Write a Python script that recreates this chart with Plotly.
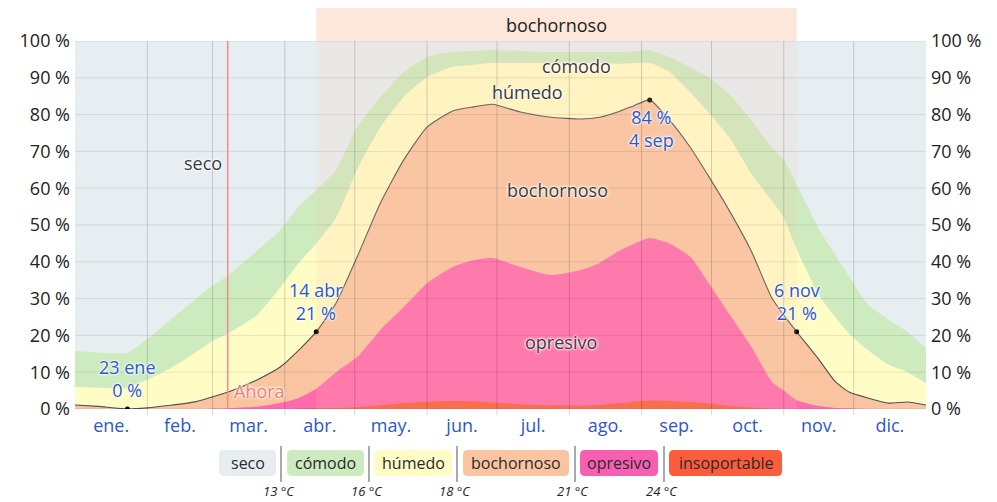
import plotly.graph_objects as go

# ---------------- data ----------------
days = [0, 10, 22.5, 31, 41, 52, 59, 66, 78, 88, 96, 103.5, 112, 121, 131, 141, 151,
        162, 170, 179, 191, 204, 217, 225, 234, 240, 246.5, 255, 264, 272, 281, 290,
        299, 304, 309.5, 319, 326, 332, 340, 349, 357, 365]

# cumulative percentages: share of time at this level or muggier
pct_insoportable = [0, 0, 0, 0, 0, 0, 0, 0, 0, 0, 0.1, 0.2, 0.3, 0.5, 1.0, 1.6, 2.0,
                    2.2, 2.1, 1.8, 1.3, 1.0, 0.9, 1.1, 1.6, 2.0, 2.3, 2.2, 1.9, 1.5, 0.8, 0.4,
                    0.1, 0, 0, 0, 0, 0, 0, 0, 0, 0]
pct_opresivo_plus = [0, 0, 0, 0, 0, 0, 0.1, 0.2, 0.6, 1.6, 3.0, 5.5, 10.0, 14.1, 21.5, 27.7, 34.2,
                     38.6, 40.3, 41.0, 38.6, 36.4, 37.8, 39.7, 43.2, 45.0, 46.5, 45.0, 41.3, 34.0, 25.5, 17.0,
                     7.3, 5.0, 2.4, 0.8, 0.3, 0.2, 0, 0, 0, 0]
pct_bochornoso_plus = [1.1, 0.7, 0.0, 0.3, 1.0, 2.0, 3.3, 4.7, 7.9, 11.4, 16.0, 21.0, 28.8, 41.3, 56.0, 67.7, 76.6,
                       81.0, 82.0, 82.8, 80.7, 79.3, 78.8, 79.3, 81.0, 82.5, 84.0, 78.5, 71.0, 63.0, 53.5, 43.0,
                       30.0, 25.5, 21.0, 13.5, 7.5, 4.6, 3.0, 1.6, 1.9, 1.1]
pct_humedo_plus = [6.0, 5.8, 5.7, 8.0, 11.1, 15.5, 18.5, 20.6, 25.5, 33.0, 39.7, 45.0, 52.0, 65.0, 76.6, 84.8, 90.2,
                   93.0, 93.5, 94.0, 94.0, 94.0, 94.0, 94.0, 93.8, 94.0, 94.0, 91.6, 86.0, 80.4, 73.5, 64.0,
                   56.5, 52.0, 43.5, 31.0, 25.0, 20.5, 16.0, 12.0, 10.0, 7.0]
pct_comodo_plus = [15.8, 15.3, 15.3, 19.0, 24.2, 30.0, 33.5, 36.5, 43.0, 48.6, 55.0, 59.5, 65.0, 76.6, 84.8, 91.6, 95.7,
                   97.0, 97.3, 97.5, 97.3, 97.0, 97.0, 97.0, 97.0, 97.2, 97.5, 95.7, 92.7, 90.0, 85.3, 78.5,
                   71.0, 67.7, 61.0, 49.0, 42.0, 36.0, 28.5, 24.2, 21.0, 16.5]

month_labels = ["ene.", "feb.", "mar.", "abr.", "may.", "jun.", "jul.", "ago.", "sep.", "oct.", "nov.", "dic."]
month_starts = [0, 31, 59, 90, 120, 151, 181, 212, 243, 273, 304, 334, 365]
y_ticks = [0, 10, 20, 30, 40, 50, 60, 70, 80, 90, 100]

key_days = [22.5, 103.5, 246.5, 309.5]
key_dates = ["23 ene", "14 abr", "4 sep", "6 nov"]
muggy_season = [103.5, 309.5]
today = 65.5

legend_labels = ["seco", "cómodo", "húmedo", "bochornoso", "opresivo", "insoportable"]
legend_temps = ["13 °C", "16 °C", "18 °C", "21 °C", "24 °C"]

# ---------------- styles ----------------
C_SECO = "#e6eef2"
C_COMODO = "#cdebbf"
C_HUMEDO = "#fffcc6"
C_BOCH = "#fbc4a0"
C_OPR = "#ff6aad"
C_INS = "#fb5c3c"
FONT = "Open Sans"
BLUE = "#2c58cc"
GLOW = "0px 0px 3px white, 0px 0px 3px white, 0px 0px 2px white"

# page is rendered with an 8px body margin: work in page pixels, size figure accordingly
OFF = 8
PAGE_W, PAGE_H = 997, 502
W, H = PAGE_W - OFF, PAGE_H - OFF
L, R, T, B = 75, 926, 41, 409  # plot area in page pixels


def px(x):
    return (x - L) / (R - L)


def py(y):
    return (B - y) / (B - T)


fig = go.Figure()
for vals, col in [(pct_comodo_plus, C_COMODO), (pct_humedo_plus, C_HUMEDO),
                  (pct_bochornoso_plus, C_BOCH), (pct_opresivo_plus, C_OPR),
                  (pct_insoportable, C_INS)]:
    fig.add_trace(go.Scatter(x=days, y=vals, mode="lines", fill="tozeroy",
                             fillcolor=col, line=dict(width=0, color=col, shape="spline", smoothing=0.5),
                             hoverinfo="skip", showlegend=False))

fig.add_trace(go.Scatter(x=days, y=pct_bochornoso_plus, mode="lines",
                         line=dict(color="#505050", width=1.1, shape="spline", smoothing=0.5),
                         showlegend=False))

key_vals = [pct_bochornoso_plus[days.index(d)] for d in key_days]
fig.add_trace(go.Scatter(x=key_days, y=key_vals, mode="markers",
                         marker=dict(color="black", size=5), showlegend=False))

shapes = []
# muggy-season band: header + overlay
shapes.append(dict(type="rect", xref="x", yref="paper", x0=muggy_season[0], x1=muggy_season[1],
                   y0=1, y1=py(6), fillcolor="#fde6da", line=dict(width=0), layer="above"))
shapes.append(dict(type="rect", xref="x", yref="y", x0=muggy_season[0], x1=muggy_season[1],
                   y0=0, y1=100, fillcolor="rgba(250,200,170,0.17)", line=dict(width=0), layer="above"))
# grid
for v in y_ticks:
    shapes.append(dict(type="line", xref="x", yref="y", x0=0, x1=365, y0=v, y1=v,
                       line=dict(color="rgba(0,0,0,0.09)", width=1), layer="above"))
for m in month_starts[1:-1]:
    shapes.append(dict(type="line", xref="x", yref="paper", x0=m, x1=m, y0=py(415), y1=1,
                       line=dict(color="rgba(0,0,0,0.16)", width=1), layer="above"))
# today line
shapes.append(dict(type="line", xref="x", yref="y", x0=today, x1=today, y0=0, y1=100,
                   line=dict(color="#f08c8c", width=1.5), layer="above"))

annotations = []
for d, lab, v in zip(key_days, key_dates, key_vals):
    if lab == "4 sep":
        annotations.append(dict(x=d, y=v, text=f"{v:.0f} %<br>{lab}", showarrow=False,
                                xanchor="center", yanchor="top", yshift=-3, xshift=2,
                                font=dict(family=FONT, size=18, color=BLUE, shadow=GLOW)))
    else:
        annotations.append(dict(x=d, y=v, text=f"{lab}<br>{v:.0f} %", showarrow=False,
                                xanchor="center", yanchor="bottom", yshift=5,
                                font=dict(family=FONT, size=18, color=BLUE, shadow=GLOW)))

for txt, d, v in [("seco", 54.9, 66.8), ("cómodo", 215.3, 93.2), ("húmedo", 193.9, 86.1),
                  ("bochornoso", 206.8, 59.5), ("opresivo", 208.5, 18.2)]:
    annotations.append(dict(x=d, y=v, text=txt, showarrow=False, xanchor="center", yanchor="middle",
                            font=dict(family=FONT, size=18, color="#3a3a3a", shadow=GLOW)))

annotations.append(dict(x=(muggy_season[0] + muggy_season[1]) / 2, y=py(25), yref="paper",
                        text="bochornoso", showarrow=False, xanchor="center", yanchor="middle",
                        font=dict(family=FONT, size=18, color="#222")))
annotations.append(dict(x=today, y=5, text="Ahora", showarrow=False, xanchor="left", xshift=4,
                        yanchor="middle",
                        font=dict(family=FONT, size=18, color="#f47b72", shadow=GLOW)))

# legend boxes (page pixels)
leg_boxes = [(219, 276), (287, 364), (374, 452), (463, 569), (580, 658), (669, 782)]
leg_cols = [C_SECO, C_COMODO, C_HUMEDO, C_BOCH, "#f75fb2", C_INS]
seps = [281, 369, 457, 575, 664]
by0, by1, rr = 450, 476, 5


def rrect(x0, y0, x1, y1, r):
    return (f"M {px(x0 + r)},{py(y0)} L {px(x1 - r)},{py(y0)} Q {px(x1)},{py(y0)} {px(x1)},{py(y0 + r)} "
            f"L {px(x1)},{py(y1 - r)} Q {px(x1)},{py(y1)} {px(x1 - r)},{py(y1)} "
            f"L {px(x0 + r)},{py(y1)} Q {px(x0)},{py(y1)} {px(x0)},{py(y1 - r)} "
            f"L {px(x0)},{py(y0 + r)} Q {px(x0)},{py(y0)} {px(x0 + r)},{py(y0)} Z")


for (x0, x1), col, lab in zip(leg_boxes, leg_cols, legend_labels):
    shapes.append(dict(type="path", xref="paper", yref="paper", path=rrect(x0, by0, x1, by1, rr),
                       fillcolor=col, line=dict(width=0)))
    annotations.append(dict(xref="paper", yref="paper", x=px((x0 + x1) / 2), y=py((by0 + by1) / 2),
                            text=lab, showarrow=False, xanchor="center", yanchor="middle",
                            font=dict(family=FONT, size=16, color="#2a2a2a")))
for s, t in zip(seps, legend_temps):
    shapes.append(dict(type="line", xref="paper", yref="paper", x0=px(s), x1=px(s),
                       y0=py(446), y1=py(482), line=dict(color="#555", width=1)))
    annotations.append(dict(xref="paper", yref="paper", x=px(s - 2), y=py(491), text=f"<i>{t}</i>",
                            showarrow=False, xanchor="center", yanchor="middle",
                            font=dict(family=FONT, size=13, color="#222")))

mid_months = [(month_starts[i] + month_starts[i + 1]) / 2 for i in range(12)]

fig.update_layout(
    width=W, height=H,
    margin=dict(l=L - OFF, r=PAGE_W - R, t=T - OFF, b=PAGE_H - B, autoexpand=False),
    paper_bgcolor="white", plot_bgcolor=C_SECO,
    shapes=shapes, annotations=annotations, showlegend=False,
    font=dict(family=FONT),
    xaxis=dict(range=[0, 365], tickvals=mid_months, ticktext=month_labels, showgrid=False,
               zeroline=False, ticks="", ticklabelstandoff=4, automargin=False,
               tickfont=dict(family=FONT, size=18, color=BLUE), fixedrange=True),
    yaxis=dict(range=[0, 100], tickvals=y_ticks, ticktext=[f"{v} %" for v in y_ticks],
               showgrid=False, zeroline=False, ticks="", ticklabelstandoff=4, automargin=False,
               tickfont=dict(family=FONT, size=18, color="#222")),
    yaxis2=dict(range=[0, 100], tickvals=y_ticks, ticktext=[f"{v} %" for v in y_ticks],
                overlaying="y", side="right", showgrid=False, zeroline=False, ticks="",
                ticklabelstandoff=4, automargin=False,
                tickfont=dict(family=FONT, size=18, color="#222")),
)
fig.add_trace(go.Scatter(x=[None], y=[None], yaxis="y2", showlegend=False))

fig.write_html("out.html")
